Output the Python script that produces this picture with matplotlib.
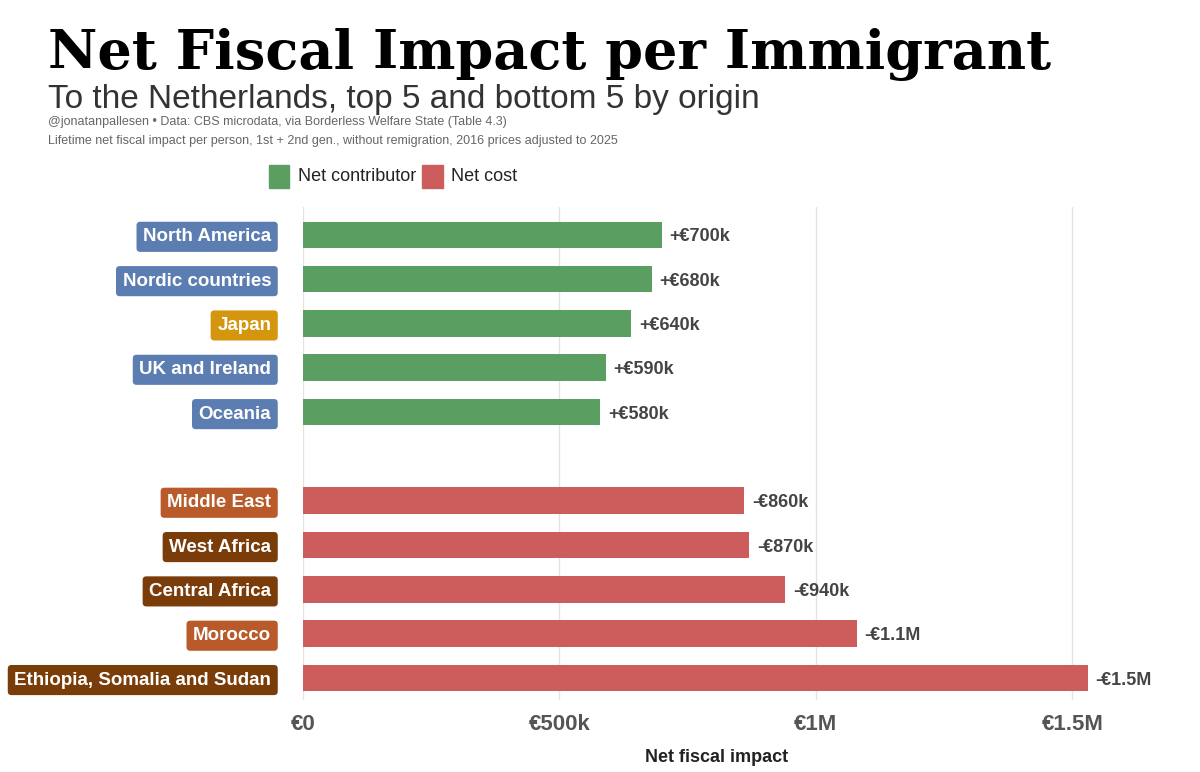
import matplotlib.pyplot as plt
from matplotlib.patches import Rectangle

origins = ["North America", "Nordic countries", "Japan", "UK and Ireland", "Oceania",
           "Middle East", "West Africa", "Central Africa", "Morocco", "Ethiopia, Somalia and Sudan"]
impact_k = [700, 680, 640, 590, 580, 860, 870, 940, 1080, 1530]
value_labels = ["+€700k", "+€680k", "+€640k", "+€590k", "+€580k",
                "-€860k", "-€870k", "-€940k", "-€1.1M", "-€1.5M"]
is_cost = [False] * 5 + [True] * 5
region_colors = ["#5b7db1", "#5b7db1", "#d4960f", "#5b7db1", "#5b7db1",
                 "#b85a2a", "#7a3d0a", "#7a3d0a", "#b85a2a", "#7a3d0a"]
xticks = [0, 500, 1000, 1500]
xtick_labels = ["€0", "€500k", "€1M", "€1.5M"]

GREEN = "#5a9e62"
RED = "#cd5c5c"
plt.rcParams['font.family'] = ['Liberation Sans', 'DejaVu Sans']

fig = plt.figure(figsize=(12, 7.72), dpi=100)
ax = fig.add_axes([0.2525, 0.093, 0.689, 0.639])

ypos = [i if i < 5 else i + 1 for i in range(len(origins))]
colors = [RED if c else GREEN for c in is_cost]
ax.barh(ypos, impact_k, height=0.6, color=colors, zorder=2)
for y, v, lab in zip(ypos, impact_k, value_labels):
    ax.text(v + 15, y, lab, va='center_baseline', ha='left', fontsize=13, fontweight='bold', color='#444444')
for y, name, col in zip(ypos, origins, region_colors):
    ax.text(-62, y, name, va='center_baseline', ha='right', fontsize=13.5, fontweight='bold', color='white',
            bbox=dict(boxstyle='round,pad=0.35,rounding_size=0.2', fc=col, ec='none'))

ax.set_xlim(0, 1612)
ax.set_ylim(10.5, -0.63)
ax.set_yticks([])
ax.set_xticks(xticks)
ax.set_xticklabels(xtick_labels, fontsize=16, fontweight='bold', color='#555555')
ax.tick_params(axis='x', length=0, pad=10)
ax.grid(axis='x', color='#e3e3e3', lw=1, zorder=0)
for s in ax.spines.values():
    s.set_visible(False)
ax.set_xlabel("Net fiscal impact", fontsize=13, fontweight='bold', color='#222222', labelpad=10)

fig.text(0.04, 0.91, "Net Fiscal Impact per Immigrant", fontsize=39, fontweight='bold',
         family=['DejaVu Serif'], color='black')
fig.text(0.04, 0.86, "To the Netherlands, top 5 and bottom 5 by origin", fontsize=24, color='#333333')
fig.text(0.04, 0.85, "@jonatanpallesen • Data: CBS microdata, via Borderless Welfare State (Table 4.3)",
         fontsize=9, color='#666666', va='top')
fig.text(0.04, 0.825, "Lifetime net fiscal impact per person, 1st + 2nd gen., without remigration, 2016 prices adjusted to 2025",
         fontsize=9, color='#666666', va='top')

fig.patches.append(Rectangle((0.224, 0.757), 0.017, 0.029, transform=fig.transFigure, color=GREEN))
fig.text(0.248, 0.771, "Net contributor", fontsize=13, va='center', color='#222222')
fig.patches.append(Rectangle((0.352, 0.757), 0.017, 0.029, transform=fig.transFigure, color=RED))
fig.text(0.376, 0.771, "Net cost", fontsize=13, va='center', color='#222222')

fig.savefig("out.png", dpi=100)
